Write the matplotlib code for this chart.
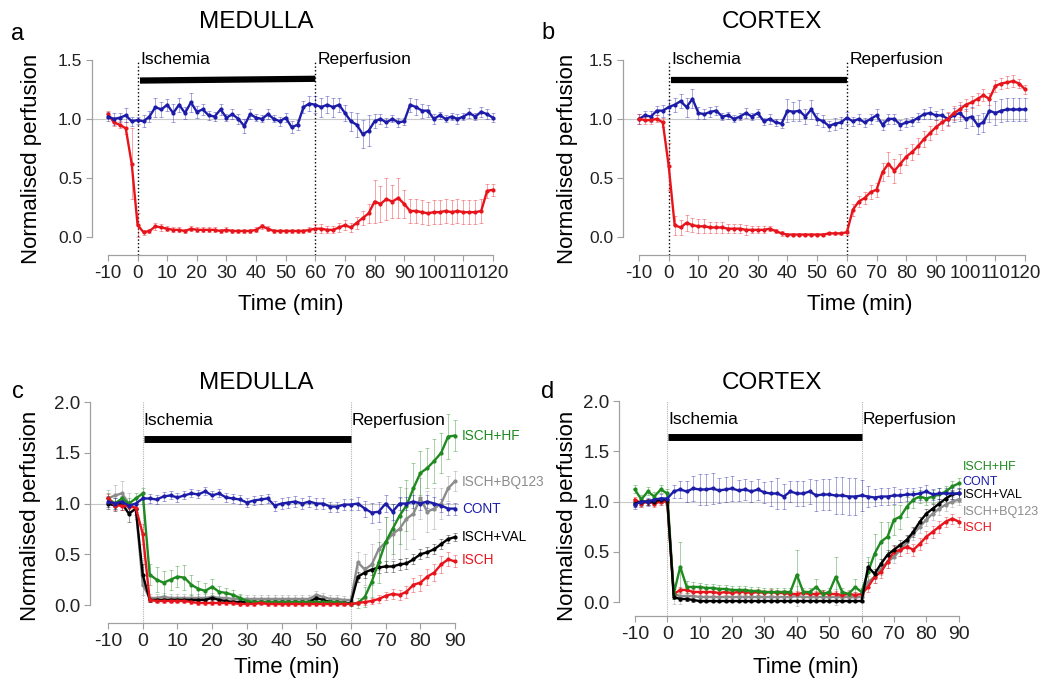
import numpy as np
import matplotlib
import matplotlib.pyplot as plt
matplotlib.use('agg')

plt.rcParams['font.family'] = ['Liberation Sans', 'DejaVu Sans']

# time axes (min)
t_long = np.arange(-10, 121, 2)
t_short = np.arange(-10, 91, 2)
isch_start, isch_end = 0, 60

# ---- panel a: medulla, 120 min reperfusion ----
a_cont = [1.02, 1.00, 1.01, 1.03, 0.98, 0.99,
          0.98, 1.02, 1.10, 1.08, 1.12, 1.05, 1.12, 1.05, 1.14, 1.06,
          1.08, 1.03, 1.02, 1.08, 1.01, 1.04, 1.00, 0.94, 1.04, 1.01,
          1.00, 1.04, 1.00, 0.98, 1.01, 0.93, 0.95, 1.10, 1.13, 1.12,
          1.10, 1.12, 1.10, 1.12, 1.05, 0.98, 0.95, 0.87, 0.90, 0.98,
          1.00, 0.97, 1.00, 0.97, 0.98, 1.12, 1.10, 1.07, 1.07, 1.00,
          1.03, 1.00, 1.02, 1.00, 1.02, 1.05, 1.02, 1.06, 1.04, 1.01]
a_cont_err = [0.04, 0.05, 0.04, 0.06, 0.04, 0.03,
              0.05, 0.05, 0.08, 0.06, 0.05, 0.08, 0.06, 0.05, 0.08, 0.05,
              0.05, 0.04, 0.04, 0.05, 0.03, 0.04, 0.04, 0.06, 0.04, 0.03,
              0.03, 0.04, 0.03, 0.04, 0.04, 0.05, 0.04, 0.05, 0.06, 0.07,
              0.08, 0.07, 0.08, 0.06, 0.07, 0.08, 0.10, 0.12, 0.13, 0.06,
              0.04, 0.04, 0.03, 0.04, 0.03, 0.06, 0.07, 0.06, 0.05, 0.04,
              0.03, 0.03, 0.03, 0.04, 0.03, 0.04, 0.03, 0.04, 0.04, 0.04]
a_isch = [1.04, 0.97, 0.95, 0.92, 0.62, 0.10,
          0.04, 0.05, 0.09, 0.08, 0.07, 0.06, 0.06, 0.05, 0.07, 0.06,
          0.06, 0.06, 0.06, 0.05, 0.06, 0.05, 0.05, 0.05, 0.05, 0.06,
          0.09, 0.07, 0.05, 0.05, 0.05, 0.05, 0.05, 0.05, 0.06, 0.07,
          0.07, 0.06, 0.06, 0.08, 0.10, 0.08, 0.12, 0.16, 0.20, 0.30,
          0.28, 0.32, 0.30, 0.33, 0.28, 0.22, 0.22, 0.21, 0.20, 0.21,
          0.21, 0.22, 0.21, 0.22, 0.21, 0.21, 0.21, 0.22, 0.39, 0.40]
a_isch_err = [0.03, 0.03, 0.03, 0.05, 0.30, 0.10,
              0.02, 0.02, 0.03, 0.03, 0.02, 0.02, 0.02, 0.02, 0.02, 0.02,
              0.02, 0.02, 0.02, 0.02, 0.02, 0.02, 0.02, 0.02, 0.02, 0.02,
              0.02, 0.02, 0.02, 0.02, 0.02, 0.02, 0.02, 0.02, 0.02, 0.04,
              0.04, 0.03, 0.03, 0.04, 0.04, 0.04, 0.05, 0.06, 0.08, 0.18,
              0.15, 0.18, 0.14, 0.17, 0.12, 0.10, 0.10, 0.10, 0.10, 0.10,
              0.10, 0.10, 0.10, 0.10, 0.10, 0.10, 0.10, 0.10, 0.06, 0.05]

# ---- panel b: cortex, 120 min reperfusion ----
b_cont = [1.00, 1.03, 1.02, 1.07, 1.07, 1.10,
          1.12, 1.15, 1.10, 1.17, 1.05, 1.04, 1.06, 1.07, 1.02, 1.03,
          1.00, 1.02, 1.05, 1.02, 1.05, 0.98, 1.00, 0.97, 0.96, 1.07,
          1.06, 1.07, 1.02, 1.08, 1.00, 0.98, 0.94, 0.96, 0.97, 1.01,
          0.98, 1.00, 0.97, 1.00, 1.03, 0.95, 1.00, 1.00, 0.95, 0.97,
          0.98, 1.01, 1.04, 1.05, 1.03, 1.03, 1.00, 1.03, 1.05, 1.00,
          1.02, 0.95, 0.97, 1.07, 1.05, 1.07, 1.08, 1.08, 1.08, 1.08]
b_cont_err = [0.04, 0.04, 0.05, 0.04, 0.05, 0.06,
              0.06, 0.06, 0.08, 0.08, 0.05, 0.04, 0.04, 0.04, 0.03, 0.03,
              0.03, 0.03, 0.04, 0.03, 0.03, 0.03, 0.04, 0.03, 0.04, 0.10,
              0.08, 0.09, 0.06, 0.08, 0.05, 0.05, 0.04, 0.05, 0.05, 0.05,
              0.04, 0.04, 0.04, 0.04, 0.05, 0.04, 0.04, 0.04, 0.04, 0.04,
              0.04, 0.04, 0.04, 0.05, 0.04, 0.05, 0.05, 0.06, 0.07, 0.08,
              0.08, 0.08, 0.08, 0.10, 0.10, 0.10, 0.10, 0.10, 0.10, 0.10]
b_isch = [1.00, 0.99, 0.99, 1.00, 0.97, 0.60,
          0.10, 0.08, 0.12, 0.10, 0.09, 0.09, 0.08, 0.08, 0.08, 0.07,
          0.07, 0.07, 0.06, 0.06, 0.06, 0.06, 0.07, 0.05, 0.03, 0.02,
          0.02, 0.02, 0.02, 0.02, 0.02, 0.02, 0.03, 0.03, 0.03, 0.04,
          0.23, 0.30, 0.33, 0.38, 0.40, 0.55, 0.62, 0.56, 0.62, 0.68,
          0.72, 0.77, 0.83, 0.88, 0.93, 0.97, 1.00, 1.05, 1.08, 1.12,
          1.14, 1.17, 1.20, 1.17, 1.28, 1.30, 1.31, 1.32, 1.30, 1.25]
b_isch_err = [0.04, 0.03, 0.03, 0.03, 0.04, 0.20,
              0.08, 0.06, 0.07, 0.06, 0.06, 0.06, 0.05, 0.05, 0.05, 0.04,
              0.04, 0.04, 0.04, 0.03, 0.03, 0.03, 0.02, 0.02, 0.02, 0.01,
              0.01, 0.01, 0.01, 0.01, 0.01, 0.01, 0.01, 0.01, 0.01, 0.02,
              0.05, 0.05, 0.05, 0.06, 0.06, 0.08, 0.10, 0.10, 0.08, 0.07,
              0.07, 0.07, 0.07, 0.06, 0.06, 0.06, 0.06, 0.06, 0.06, 0.05,
              0.05, 0.05, 0.05, 0.05, 0.05, 0.05, 0.05, 0.05, 0.04, 0.04]

# ---- panel c: medulla, treatment groups ----
c_cont = [1.02, 1.00, 1.02, 0.98, 1.00, 1.05,
          1.05, 1.04, 1.07, 1.08, 1.06, 1.08, 1.10, 1.09, 1.12, 1.08,
          1.10, 1.06, 1.05, 1.04, 1.01, 1.03, 1.04, 1.05, 0.98, 1.00,
          1.01, 1.02, 1.00, 1.02, 1.00, 1.00, 0.97, 0.97, 0.99, 0.99,
          1.00, 0.95, 0.91, 0.92, 1.00, 0.92, 1.00, 1.00, 1.02, 1.00,
          1.02, 1.00, 0.98, 0.95, 0.95]
c_cont_err = [0.05, 0.05, 0.05, 0.05, 0.05, 0.05,
              0.04, 0.04, 0.04, 0.04, 0.04, 0.04, 0.04, 0.04, 0.04, 0.04,
              0.04, 0.04, 0.04, 0.04, 0.04, 0.04, 0.04, 0.04, 0.05, 0.05,
              0.05, 0.05, 0.05, 0.05, 0.05, 0.05, 0.05, 0.05, 0.05, 0.05,
              0.06, 0.08, 0.10, 0.10, 0.08, 0.08, 0.06, 0.06, 0.06, 0.06,
              0.06, 0.06, 0.06, 0.06, 0.06]
c_isch = [1.05, 0.98, 0.98, 0.97, 0.96, 0.70,
          0.05, 0.04, 0.04, 0.04, 0.04, 0.04, 0.03, 0.02, 0.02, 0.02,
          0.02, 0.02, 0.02, 0.01, 0.01, 0.01, 0.02, 0.01, 0.01, 0.01,
          0.01, 0.01, 0.01, 0.01, 0.01, 0.01, 0.01, 0.01, 0.01, 0.01,
          0.02, 0.03, 0.04, 0.06, 0.09, 0.11, 0.10, 0.13, 0.20, 0.22,
          0.28, 0.32, 0.40, 0.45, 0.43]
c_isch_err = [0.04, 0.04, 0.04, 0.04, 0.04, 0.10,
              0.02, 0.02, 0.02, 0.02, 0.02, 0.02, 0.02, 0.02, 0.02, 0.02,
              0.02, 0.02, 0.02, 0.02, 0.02, 0.02, 0.02, 0.02, 0.02, 0.02,
              0.02, 0.02, 0.02, 0.02, 0.02, 0.02, 0.02, 0.02, 0.02, 0.02,
              0.02, 0.03, 0.03, 0.04, 0.04, 0.05, 0.05, 0.06, 0.07, 0.08,
              0.08, 0.08, 0.08, 0.07, 0.06]
c_hf = [1.05, 1.00, 1.05, 1.00, 1.05, 1.10,
        0.30, 0.25, 0.22, 0.25, 0.28, 0.27, 0.20, 0.16, 0.14, 0.18,
        0.13, 0.12, 0.10, 0.07, 0.04, 0.03, 0.03, 0.03, 0.03, 0.03,
        0.03, 0.03, 0.03, 0.03, 0.03, 0.03, 0.03, 0.03, 0.02, 0.01,
        0.02, 0.08, 0.23, 0.42, 0.62, 0.75, 0.88, 0.98, 1.15, 1.30,
        1.35, 1.42, 1.50, 1.66, 1.67]
c_hf_err = [0.05, 0.05, 0.05, 0.05, 0.05, 0.05,
            0.10, 0.12, 0.12, 0.10, 0.10, 0.12, 0.10, 0.08, 0.08, 0.08,
            0.06, 0.05, 0.05, 0.04, 0.03, 0.02, 0.02, 0.02, 0.02, 0.02,
            0.02, 0.02, 0.02, 0.02, 0.02, 0.02, 0.02, 0.02, 0.02, 0.02,
            0.05, 0.10, 0.15, 0.20, 0.25, 0.25, 0.28, 0.25, 0.25, 0.22,
            0.20, 0.22, 0.20, 0.22, 0.15]
c_bq = [1.05, 1.08, 1.10, 1.00, 0.95, 0.20,
        0.07, 0.07, 0.08, 0.07, 0.07, 0.07, 0.07, 0.07, 0.07, 0.08,
        0.07, 0.07, 0.06, 0.06, 0.06, 0.06, 0.06, 0.06, 0.06, 0.06,
        0.06, 0.06, 0.06, 0.06, 0.10, 0.08, 0.06, 0.06, 0.05, 0.05,
        0.42, 0.35, 0.40, 0.55, 0.62, 0.70, 0.75, 0.85, 0.90, 1.05,
        0.92, 0.95, 1.00, 1.15, 1.22]
c_bq_err = [0.08, 0.10, 0.12, 0.10, 0.10, 0.10,
            0.04, 0.04, 0.04, 0.04, 0.04, 0.04, 0.04, 0.04, 0.04, 0.04,
            0.04, 0.04, 0.04, 0.04, 0.04, 0.04, 0.04, 0.04, 0.04, 0.04,
            0.04, 0.04, 0.04, 0.04, 0.04, 0.04, 0.04, 0.04, 0.04, 0.04,
            0.10, 0.15, 0.20, 0.20, 0.25, 0.25, 0.30, 0.30, 0.25, 0.20,
            0.20, 0.20, 0.15, 0.12, 0.10]
c_val = [1.00, 0.98, 1.00, 0.90, 0.95, 0.30,
         0.05, 0.05, 0.05, 0.05, 0.05, 0.05, 0.05, 0.05, 0.05, 0.07,
         0.05, 0.04, 0.03, 0.03, 0.03, 0.03, 0.03, 0.03, 0.03, 0.03,
         0.03, 0.03, 0.03, 0.03, 0.07, 0.05, 0.03, 0.03, 0.02, 0.02,
         0.28, 0.32, 0.35, 0.37, 0.38, 0.38, 0.40, 0.41, 0.45, 0.50,
         0.52, 0.55, 0.60, 0.65, 0.67]
c_val_err = [0.05, 0.05, 0.06, 0.08, 0.06, 0.10,
             0.02, 0.02, 0.02, 0.02, 0.02, 0.02, 0.02, 0.02, 0.02, 0.02,
             0.02, 0.02, 0.02, 0.02, 0.02, 0.02, 0.02, 0.02, 0.02, 0.02,
             0.02, 0.02, 0.02, 0.02, 0.02, 0.02, 0.02, 0.02, 0.02, 0.02,
             0.05, 0.05, 0.05, 0.05, 0.05, 0.05, 0.05, 0.05, 0.05, 0.05,
             0.05, 0.05, 0.05, 0.04, 0.04]

# ---- panel d: cortex, treatment groups ----
d_cont = [0.97, 1.00, 1.00, 1.02, 1.03, 1.03,
          1.10, 1.12, 1.10, 1.13, 1.12, 1.12, 1.13, 1.11, 1.12, 1.13,
          1.11, 1.12, 1.10, 1.12, 1.09, 1.08, 1.08, 1.05, 1.10, 1.08,
          1.08, 1.10, 1.06, 1.07, 1.07, 1.06, 1.06, 1.05, 1.05, 1.06,
          1.05, 1.04, 1.05, 1.05, 1.06, 1.06, 1.07, 1.07, 1.08, 1.10,
          1.07, 1.08, 1.08, 1.08, 1.08]
d_cont_err = [0.04, 0.04, 0.04, 0.04, 0.04, 0.05,
              0.06, 0.08, 0.10, 0.12, 0.15, 0.15, 0.15, 0.12, 0.12, 0.12,
              0.10, 0.10, 0.10, 0.10, 0.10, 0.12, 0.15, 0.12, 0.10, 0.12,
              0.12, 0.12, 0.15, 0.15, 0.15, 0.18, 0.18, 0.18, 0.18, 0.15,
              0.10, 0.08, 0.08, 0.08, 0.08, 0.06, 0.06, 0.06, 0.06, 0.06,
              0.05, 0.05, 0.05, 0.05, 0.05]
d_isch = [1.02, 0.98, 1.00, 0.98, 1.00, 1.00,
          0.08, 0.12, 0.12, 0.10, 0.10, 0.10, 0.10, 0.09, 0.10, 0.09,
          0.10, 0.10, 0.09, 0.10, 0.09, 0.10, 0.09, 0.09, 0.08, 0.08,
          0.09, 0.08, 0.08, 0.09, 0.08, 0.08, 0.07, 0.08, 0.07, 0.08,
          0.15, 0.25, 0.30, 0.40, 0.50, 0.52, 0.55, 0.52, 0.58, 0.65,
          0.70, 0.75, 0.80, 0.83, 0.80]
d_isch_err = [0.03, 0.03, 0.03, 0.03, 0.03, 0.03,
              0.03, 0.03, 0.03, 0.03, 0.03, 0.03, 0.03, 0.03, 0.03, 0.03,
              0.03, 0.03, 0.03, 0.03, 0.03, 0.03, 0.03, 0.03, 0.03, 0.03,
              0.03, 0.03, 0.03, 0.03, 0.03, 0.03, 0.03, 0.03, 0.03, 0.03,
              0.05, 0.06, 0.06, 0.06, 0.06, 0.06, 0.06, 0.06, 0.06, 0.06,
              0.06, 0.06, 0.05, 0.05, 0.05]
d_hf = [1.12, 1.02, 1.10, 1.05, 1.12, 1.08,
        0.08, 0.35, 0.15, 0.15, 0.15, 0.14, 0.14, 0.13, 0.13, 0.12,
        0.12, 0.12, 0.11, 0.11, 0.10, 0.10, 0.10, 0.10, 0.10, 0.27,
        0.10, 0.10, 0.15, 0.08, 0.10, 0.25, 0.10, 0.08, 0.15, 0.10,
        0.30, 0.48, 0.60, 0.65, 0.82, 0.85, 0.95, 1.02, 1.05, 1.03,
        1.05, 1.07, 1.10, 1.15, 1.18]
d_hf_err = [0.04, 0.04, 0.04, 0.04, 0.04, 0.04,
            0.05, 0.25, 0.06, 0.05, 0.04, 0.04, 0.04, 0.04, 0.04, 0.04,
            0.04, 0.04, 0.04, 0.04, 0.04, 0.04, 0.04, 0.04, 0.04, 0.25,
            0.04, 0.04, 0.08, 0.04, 0.04, 0.20, 0.04, 0.04, 0.08, 0.04,
            0.15, 0.20, 0.20, 0.15, 0.15, 0.12, 0.10, 0.08, 0.06, 0.06,
            0.06, 0.06, 0.05, 0.05, 0.05]
d_bq = [1.00, 0.98, 1.00, 0.99, 1.00, 1.00,
        0.08, 0.06, 0.06, 0.06, 0.05, 0.05, 0.05, 0.05, 0.05, 0.05,
        0.05, 0.05, 0.05, 0.05, 0.05, 0.05, 0.05, 0.05, 0.05, 0.06,
        0.05, 0.05, 0.05, 0.05, 0.05, 0.05, 0.05, 0.05, 0.05, 0.05,
        0.20, 0.25, 0.33, 0.40, 0.45, 0.52, 0.60, 0.68, 0.75, 0.82,
        0.88, 0.93, 0.97, 1.00, 1.02]
d_bq_err = [0.03, 0.03, 0.03, 0.03, 0.03, 0.03,
            0.10, 0.08, 0.05, 0.05, 0.05, 0.05, 0.05, 0.05, 0.05, 0.05,
            0.05, 0.05, 0.05, 0.05, 0.05, 0.05, 0.05, 0.05, 0.05, 0.10,
            0.05, 0.05, 0.05, 0.05, 0.05, 0.08, 0.05, 0.05, 0.05, 0.05,
            0.06, 0.06, 0.06, 0.06, 0.06, 0.06, 0.06, 0.06, 0.06, 0.06,
            0.06, 0.06, 0.06, 0.05, 0.05]
d_val = [0.98, 1.00, 1.00, 1.00, 1.02, 1.02,
         0.05, 0.03, 0.03, 0.02, 0.01, 0.01, 0.01, 0.01, 0.01, 0.01,
         0.01, 0.01, 0.01, 0.01, 0.01, 0.01, 0.01, 0.01, 0.01, 0.01,
         0.01, 0.01, 0.01, 0.01, 0.01, 0.01, 0.01, 0.01, 0.01, 0.01,
         0.35, 0.28, 0.38, 0.47, 0.52, 0.57, 0.62, 0.70, 0.80, 0.88,
         0.93, 0.98, 1.03, 1.07, 1.08]
d_val_err = [0.03, 0.03, 0.03, 0.03, 0.03, 0.03,
             0.02, 0.02, 0.02, 0.02, 0.01, 0.01, 0.01, 0.01, 0.01, 0.01,
             0.01, 0.01, 0.01, 0.01, 0.01, 0.01, 0.01, 0.01, 0.01, 0.01,
             0.01, 0.01, 0.01, 0.01, 0.01, 0.01, 0.01, 0.01, 0.01, 0.01,
             0.05, 0.05, 0.05, 0.05, 0.05, 0.05, 0.05, 0.05, 0.05, 0.05,
             0.05, 0.05, 0.05, 0.04, 0.04]

BLUE = '#1c1ca8'
RED = '#e8141c'
GREEN = '#1f8a1f'
GRAY = '#8c8c8c'
BLACK = '#000000'
AXCOL = '#a0a0a0'

W, H = 1040, 683
fig = plt.figure(figsize=(W / 100, H / 100), dpi=100)


def add_panel(left, top, right, bottom):
    return fig.add_axes([left / W, 1 - bottom / H, (right - left) / W, (bottom - top) / H])


def draw_series(ax, t, y, err, color, lw=1.7):
    ax.errorbar(t, y, yerr=err, fmt='none', ecolor=color, elinewidth=0.6,
                capsize=1.5, capthick=0.6, alpha=0.45, zorder=2)
    ax.plot(t, y, color=color, lw=lw, marker='o', ms=2, zorder=3)


def style_axes(ax, xlim, ylim, xticks, yticks, ytop, xfs, yfs):
    ax.set_xlim(*xlim)
    ax.set_ylim(*ylim)
    for s in ['top', 'right']:
        ax.spines[s].set_visible(False)
    for s in ['left', 'bottom']:
        ax.spines[s].set_color(AXCOL)
        ax.spines[s].set_linewidth(0.9)
    ax.spines['bottom'].set_bounds(xticks[0], xticks[-1])
    ax.spines['left'].set_bounds(0, ytop)
    ax.set_xticks(xticks)
    ax.set_xticklabels([str(v) for v in xticks])
    ax.set_yticks(yticks)
    ax.set_yticklabels(['%.1f' % v for v in yticks])
    ax.tick_params(direction='out', length=4, width=0.8, color=AXCOL,
                   labelcolor='#222222', pad=3)
    ax.tick_params(axis='x', labelsize=xfs)
    ax.tick_params(axis='y', labelsize=yfs)
    ax.axhline(1.0, color='#c8c8c8', lw=0.8, zorder=1)
    ax.patch.set_alpha(0)


top_ticks = list(range(-10, 121, 10))
bot_ticks = list(range(-10, 91, 10))

# panel a
ax_a = add_panel(92, 54, 496, 255)
style_axes(ax_a, (-15.4, 121), (-0.153, 1.55), top_ticks, [0, 0.5, 1.0, 1.5], 1.5, 13.5, 12.5)
draw_series(ax_a, t_long, a_isch, a_isch_err, RED)
draw_series(ax_a, t_long, a_cont, a_cont_err, BLUE)

# panel b
ax_b = add_panel(623, 54, 1028, 255)
style_axes(ax_b, (-15.4, 121), (-0.153, 1.55), top_ticks, [0, 0.5, 1.0, 1.5], 1.5, 13.5, 12.5)
draw_series(ax_b, t_long, b_cont, b_cont_err, BLUE)
draw_series(ax_b, t_long, b_isch, b_isch_err, RED)

for ax, bar_y in [(ax_a, (1.325, 1.34)), (ax_b, (1.33, 1.33))]:
    lo = ax.get_ylim()[0]
    for xv in (isch_start, isch_end):
        ax.plot([xv, xv], [lo, 1.5], ls=':', color='k', lw=1.0, zorder=1, clip_on=False)
    ax.plot([isch_start + 0.8, isch_end], bar_y, color='k', lw=4.5,
            solid_capstyle='butt', zorder=4)
    ax.text(isch_start + 0.8, 1.5, 'Ischemia', fontsize=12.5, va='center', ha='left')
    ax.text(isch_end + 0.8, 1.5, 'Reperfusion', fontsize=12.5, va='center', ha='left')

# panel c
ax_c = add_panel(90, 397, 458.5, 623)
style_axes(ax_c, (-15.2, 91), (-0.177, 2.05), bot_ticks, [0, 0.5, 1.0, 1.5, 2.0], 2.0, 14, 13.5)
c_series = [(c_bq, c_bq_err, GRAY), (c_val, c_val_err, BLACK), (c_hf, c_hf_err, GREEN),
            (c_isch, c_isch_err, RED), (c_cont, c_cont_err, BLUE)]
for y, e, col in c_series:
    draw_series(ax_c, t_short, y, e, col)

# panel d
ax_d = add_panel(619, 396, 962, 616)
style_axes(ax_d, (-14.9, 91), (-0.139, 2.05), bot_ticks, [0, 0.5, 1.0, 1.5, 2.0], 2.0, 14, 13.5)
d_series = [(d_bq, d_bq_err, GRAY), (d_isch, d_isch_err, RED), (d_hf, d_hf_err, GREEN),
            (d_val, d_val_err, BLACK), (d_cont, d_cont_err, BLUE)]
for y, e, col in d_series:
    draw_series(ax_d, t_short, y, e, col)

for ax in (ax_c, ax_d):
    lo = ax.get_ylim()[0]
    for xv in (isch_start, isch_end):
        ax.plot([xv, xv], [lo, 2.0], ls=(0, (1, 1)), color='#b4b4b4', lw=0.8,
                zorder=1, clip_on=False)
    ax.plot([isch_start + 0.3, isch_end], [1.64, 1.64], color='k', lw=5,
            solid_capstyle='butt', zorder=4)
    ax.text(isch_start + 0.3, 1.82, 'Ischemia', fontsize=12.5, va='center', ha='left')
    ax.text(isch_end + 0.3, 1.82, 'Reperfusion', fontsize=12.5, va='center', ha='left')

# end-of-line group labels
c_labels = [('ISCH+HF', 1.67, GREEN), ('ISCH+BQ123', 1.21, GRAY), ('CONT', 0.95, BLUE),
            ('ISCH+VAL', 0.67, BLACK), ('ISCH', 0.44, RED)]
d_labels = [('ISCH+HF', 1.34, GREEN), ('CONT', 1.19, BLUE), ('ISCH+VAL', 1.06, BLACK),
            ('ISCH+BQ123', 0.90, GRAY), ('ISCH', 0.74, RED)]
for ax, labels, xpos, fs in [(ax_c, c_labels, 92, 9.8), (ax_d, d_labels, 91.2, 9.0)]:
    for name, yv, col in labels:
        ax.text(xpos, yv, name, color=col, fontsize=fs, va='center', ha='left', clip_on=False)

# titles, panel letters, axis labels
def ftext(x, y, s, **kw):
    fig.text(x / W, 1 - y / H, s, **kw)


for x, y, s in [(256, 22, 'MEDULLA'), (772, 22, 'CORTEX'), (256, 383, 'MEDULLA'), (772, 383, 'CORTEX')]:
    ftext(x, y, s, fontsize=17.5, ha='center', va='center')
for x, y, s in [(18, 34, 'a'), (548, 33, 'b'), (18, 392, 'c'), (548, 392, 'd')]:
    ftext(x, y, s, fontsize=17, ha='center', va='center')
for x, y in [(291, 305), (860, 305), (287, 668), (806, 668)]:
    ftext(x, y, 'Time (min)', fontsize=16, ha='center', va='center')
for x, y in [(32, 159), (567, 159), (31, 516), (567, 516)]:
    ftext(x, y, 'Normalised perfusion', fontsize=16, ha='center', va='center', rotation=90)

fig.savefig('out.png', dpi=100)
